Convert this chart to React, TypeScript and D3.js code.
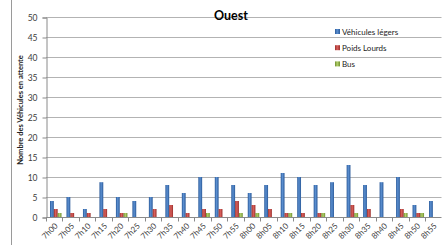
import React, { useRef, useEffect } from 'react';
import * as d3 from 'd3';

const categories = [
  "7h00", "7h05", "7h10", "7h15", "7h20", "7h25", "7h30", "7h35", "7h40", "7h45", "7h50", "7h55",
  "8h00", "8h05", "8h10", "8h15", "8h20", "8h25", "8h30", "8h35", "8h40", "8h45", "8h50", "8h55"
];
const vehiculesLegers = [4, 5, 2, 8.7, 5, 4, 5, 8, 6, 10, 10, 8, 6, 8, 11, 10, 8, 8.7, 13, 8, 8.7, 10, 3, 4];
const poidsLourds = [2, 1, 1, 2, 1, 0, 2, 3, 1, 2, 2, 4, 3, 2, 1, 1, 1, 0, 3, 2, 0, 2, 1, 0];
const bus = [1, 0, 0, 0, 1, 0, 0, 0, 0, 1, 0, 1, 1, 0, 1, 0, 1, 0, 1, 0, 0, 1, 1, 0];
const seriesNames = ["Véhicules légers", "Poids Lourds", "Bus"];
const yTicks = [0, 5, 10, 15, 20, 25, 30, 35, 40, 45, 50];

const colors = [
  { light: "#5b8fd0", dark: "#2a5a9a" },
  { light: "#d9605c", dark: "#9a2f2c" },
  { light: "#b2d06a", dark: "#6f8f30" }
];

const App: React.FC = () => {
  const svgRef = useRef<SVGSVGElement | null>(null);

  useEffect(() => {
    const width = 442;
    const height = 245;
    const left = 46, right = 441.5, top = 17, bottom = 217;
    const font = "Lato, 'Open Sans', sans-serif";

    const svg = d3.select(svgRef.current);
    svg.selectAll("*").remove();
    svg.attr("width", width).attr("height", height);

    const defs = svg.append("defs");
    colors.forEach((c, i) => {
      const g = defs.append("linearGradient").attr("id", `grad${i}`)
        .attr("x1", "0").attr("x2", "1").attr("y1", "0").attr("y2", "0");
      g.append("stop").attr("offset", "0").attr("stop-color", c.dark);
      g.append("stop").attr("offset", "0.45").attr("stop-color", c.light);
      g.append("stop").attr("offset", "1").attr("stop-color", c.dark);
    });

    const x = d3.scaleBand().domain(categories).range([left, right]).padding(0);
    const xs = d3.scaleBand().domain(seriesNames).range([4, 15.5]).padding(0);
    const y = d3.scaleLinear().domain([0, 50]).range([bottom, top]);

    // left border
    svg.append("line").attr("x1", 11.5).attr("x2", 11.5).attr("y1", 0).attr("y2", height)
      .attr("stroke", "#9a9a9a");

    // gridlines
    svg.append("g").selectAll("line").data(yTicks.filter(d => d > 0)).join("line")
      .attr("x1", left).attr("x2", right)
      .attr("y1", d => Math.round(y(d)) + 0.5).attr("y2", d => Math.round(y(d)) + 0.5)
      .attr("stroke", "#b3b3b3").attr("stroke-width", 1);

    // y axis
    const yAxis = svg.append("g").attr("transform", `translate(${left + 0.5},0.5)`)
      .call(d3.axisLeft(y).tickValues(yTicks).tickSize(4).tickPadding(5));
    yAxis.select(".domain").attr("stroke", "#8a8a8a");
    yAxis.selectAll(".tick line").attr("stroke", "#8a8a8a");
    yAxis.selectAll(".tick text").attr("font-family", font).attr("font-size", 8.5).attr("fill", "#404040");

    // bars
    const allSeries = [vehiculesLegers, poidsLourds, bus];
    allSeries.forEach((vals, si) => {
      svg.append("g").selectAll("rect")
        .data(vals.map((v, i) => ({ cat: categories[i], v })).filter(d => d.v > 0))
        .join("rect")
        .attr("x", d => x(d.cat)! + xs(seriesNames[si])!)
        .attr("y", d => y(d.v))
        .attr("width", xs.bandwidth())
        .attr("height", d => y(0) - y(d.v))
        .attr("fill", `url(#grad${si})`);
    });

    // x axis
    const xAxisG = svg.append("g").attr("transform", `translate(0,${bottom + 0.5})`);
    xAxisG.append("line").attr("x1", left).attr("x2", right).attr("stroke", "#8a8a8a");
    xAxisG.selectAll("line.tk").data([...categories.map(c => x(c)!), right]).join("line")
      .attr("class", "tk")
      .attr("x1", d => Math.round(d) + 0.5).attr("x2", d => Math.round(d) + 0.5)
      .attr("y1", 0).attr("y2", 4).attr("stroke", "#8a8a8a");
    xAxisG.selectAll("text").data(categories).join("text")
      .attr("transform", d => `translate(${x(d)! + x.bandwidth() / 2 + 4},${9}) rotate(-45)`)
      .attr("text-anchor", "end")
      .attr("font-family", font).attr("font-size", 8).attr("fill", "#404040")
      .text(d => d);

    // title
    svg.append("text").attr("x", 231).attr("y", 20).attr("text-anchor", "middle")
      .attr("font-family", font).attr("font-size", 12.5).attr("font-weight", "bold")
      .attr("fill", "#000").text("Ouest");

    // y axis title
    svg.append("text")
      .attr("transform", `translate(23,110) rotate(-90)`)
      .attr("text-anchor", "middle")
      .attr("font-family", font).attr("font-size", 7.5).attr("font-weight", "bold")
      .attr("fill", "#222").text("Nombre des Véhicules en attente");

    // legend
    const legend = svg.append("g").attr("transform", "translate(335,29)");
    seriesNames.forEach((name, i) => {
      const g = legend.append("g").attr("transform", `translate(0,${i * 16.2})`);
      g.append("rect").attr("width", 5).attr("height", 5).attr("fill", `url(#grad${i})`);
      g.append("text").attr("x", 7).attr("y", 5.5)
        .attr("font-family", font).attr("font-size", 8).attr("fill", "#222").text(name);
    });
  }, []);

  return (
    <svg ref={svgRef} style={{ position: 'absolute', left: 0, top: 0 }}></svg>
  );
};

export default App;
